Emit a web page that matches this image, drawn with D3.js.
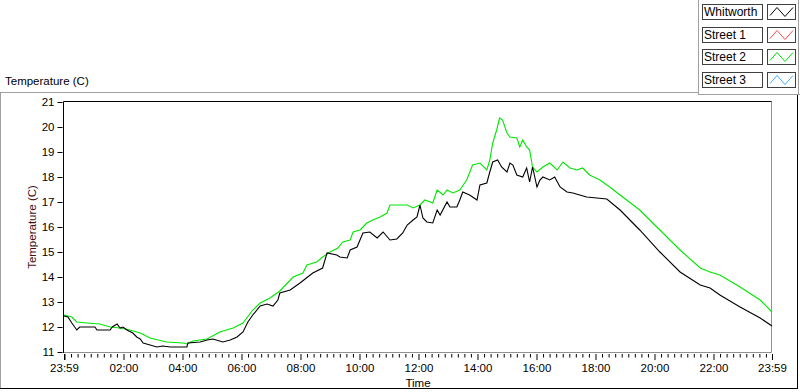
<!DOCTYPE html>
<html><head><meta charset="utf-8">
<script src="https://cdn.jsdelivr.net/npm/d3@7"></script>
<style>
html,body{margin:0;padding:0;background:#fff;}
svg{display:block;font-family:"Liberation Sans",Arial,sans-serif;}
</style></head><body>
<svg id="c" width="800" height="392"></svg>
<script>
const seriesNames = ["Whitworth", "Street 1", "Street 2", "Street 3"];
const seriesColors = ["#000000", "#ff4848", "#00e600", "#3cb0ff"];

const whitworthTimes = ["23:59","00:07","00:15","00:25","00:31","01:02","01:06","01:33","01:37","01:47","01:53","01:59","02:07","02:19","02:27","02:34","02:40","02:54","03:08","03:20","03:35","04:09","04:11","04:36","04:50","05:02","05:22","05:37","05:51","06:03","06:13","06:23","06:38","06:52","07:04","07:14","07:18","07:39","07:59","08:25","08:45","08:54","09:14","09:20","09:35","09:41","09:55","10:07","10:21","10:36","10:48","11:02","11:16","11:28","11:37","11:49","11:57","12:03","12:09","12:17","12:29","12:38","12:44","12:58","13:04","13:18","13:24","13:30","13:44","13:59","14:05","14:19","14:25","14:31","14:41","14:49","15:00","15:06","15:12","15:20","15:32","15:40","15:46","15:52","16:01","16:07","16:13","16:27","16:37","16:48","17:02","17:14","17:28","17:42","18:03","18:23","18:50","19:30","20:11","20:52","21:33","21:53","22:13","22:54","23:35","23:59"];
const whitworthTemps = [12.44,12.40,12.16,11.88,12.00,12.00,11.88,11.88,12.00,12.12,11.96,12.00,11.88,11.76,11.60,11.52,11.36,11.28,11.20,11.24,11.20,11.20,11.36,11.40,11.48,11.52,11.40,11.48,11.60,11.80,12.20,12.48,12.84,12.92,12.84,13.08,13.36,13.48,13.76,14.16,14.36,14.96,14.88,14.80,14.76,15.08,15.20,15.76,15.80,15.56,15.80,15.48,15.52,15.76,16.08,16.28,16.40,16.88,16.36,16.20,16.16,16.68,16.48,17.00,16.80,16.80,17.08,17.40,17.28,17.08,17.68,17.76,18.20,18.60,18.68,18.40,18.20,18.56,18.48,18.08,18.00,18.36,17.80,18.40,17.60,17.88,18.00,17.88,18.00,17.60,17.40,17.36,17.28,17.20,17.16,17.12,16.68,15.88,15.00,14.20,13.68,13.56,13.28,12.80,12.36,12.04];

const street2Times = ["23:59","00:15","00:25","00:46","01:12","01:33","01:53","02:13","02:34","02:54","03:28","04:01","04:09","04:21","04:50","05:16","05:43","06:03","06:23","06:38","06:58","07:18","07:45","08:05","08:13","08:33","08:45","09:00","09:16","09:26","09:41","09:47","10:01","10:15","10:27","10:42","10:56","11:02","11:37","11:49","12:03","12:13","12:29","12:38","12:50","12:58","13:10","13:24","13:38","13:50","14:05","14:19","14:25","14:31","14:39","14:45","14:51","15:00","15:06","15:20","15:26","15:32","15:40","15:46","15:52","16:01","16:13","16:27","16:42","16:54","17:08","17:22","17:34","17:48","18:09","18:29","18:50","19:30","20:11","20:52","21:33","21:53","22:13","22:54","23:35","23:59"];
const street2Temps = [12.48,12.40,12.20,12.16,12.12,12.00,11.96,11.88,11.76,11.56,11.40,11.36,11.32,11.44,11.52,11.80,11.96,12.16,12.68,12.96,13.16,13.44,14.00,14.16,14.48,14.60,14.80,15.00,15.16,15.40,15.48,15.80,15.88,16.16,16.28,16.40,16.56,16.88,16.88,16.76,16.88,17.08,16.96,17.48,17.28,17.48,17.36,17.48,17.88,18.48,18.56,18.28,18.68,19.36,19.88,20.36,20.28,19.76,19.60,19.56,19.20,19.48,19.20,19.08,18.40,18.20,18.40,18.56,18.28,18.60,18.36,18.28,18.36,18.08,17.88,17.60,17.28,16.68,15.88,15.08,14.36,14.20,14.08,13.60,13.08,12.60];

const yTicks = [11,12,13,14,15,16,17,18,19,20,21];
const xTickLabels = ["23:59","","02:00","04:00","06:00","08:00","10:00","12:00","14:00","16:00","18:00","20:00","22:00","23:59"];
const xMajorTimes = ["23:59","00:00","02:00","04:00","06:00","08:00","10:00","12:00","14:00","16:00","18:00","20:00","22:00","23:59"];

function toMin(s, i, arr) {
  const [h, m] = s.split(":").map(Number);
  let v = h * 60 + m;
  if (i === 0 && h === 23) v -= 1440;
  return v;
}

const svg = d3.select("#c");
const L = 63.5, R = 771.5, T = 101.5, B = 352;
const x = d3.scaleLinear().domain([-1, 1439]).range([64, 772]);
const y = d3.scaleLinear().domain([11, 21]).range([352, 102]);

// outer panel lines
const grey = "#a0a0a0";
svg.append("line").attr("x1",0).attr("x2",698).attr("y1",92.5).attr("y2",92.5).attr("stroke",grey);
svg.append("line").attr("x1",0.5).attr("x2",0.5).attr("y1",92).attr("y2",389).attr("stroke",grey);
svg.append("line").attr("x1",698.5).attr("x2",698.5).attr("y1",0).attr("y2",95).attr("stroke",grey);
svg.append("line").attr("x1",698).attr("x2",800).attr("y1",94.5).attr("y2",94.5).attr("stroke",grey);
svg.append("line").attr("x1",798.5).attr("x2",798.5).attr("y1",0).attr("y2",94).attr("stroke",grey);
svg.append("line").attr("x1",797.5).attr("x2",797.5).attr("y1",95).attr("y2",389).attr("stroke","#000");
svg.append("line").attr("x1",0).attr("x2",798).attr("y1",388.5).attr("y2",388.5).attr("stroke","#000");

// title
svg.append("text").attr("x",5).attr("y",85).attr("font-size",11.5).attr("fill","#000").text("Temperature (C)");

// plot frame
svg.append("line").attr("x1",R).attr("x2",R).attr("y1",T).attr("y2",B+0.5).attr("stroke","#909090");
svg.append("line").attr("x1",L).attr("x2",R).attr("y1",B+0.5).attr("y2",B+0.5).attr("stroke","#909090");
svg.append("line").attr("x1",L).attr("x2",R).attr("y1",T).attr("y2",T).attr("stroke","#000");
svg.append("line").attr("x1",L).attr("x2",L).attr("y1",T).attr("y2",B+1).attr("stroke","#000");

// y axis
const yAxis = d3.axisLeft(y).tickValues(yTicks).tickSize(5).tickPadding(3).tickFormat(d3.format("d"));
const gy = svg.append("g").attr("transform","translate(62.5,0)").call(yAxis);
gy.select(".domain").remove();
gy.selectAll("text").attr("font-size",11.5).attr("fill","#000").attr("font-family","Liberation Sans, Arial, sans-serif");
gy.selectAll("line").attr("stroke","#000");

// x axis majors
const majorVals = xMajorTimes.map(toMin);
const xAxis = d3.axisBottom(x).tickValues(majorVals).tickSize(6).tickPadding(4)
  .tickFormat((d, i) => xTickLabels[i]);
const gx = svg.append("g").attr("transform","translate(0,354)").call(xAxis);
gx.select(".domain").remove();
gx.selectAll("text").attr("font-size",11.5).attr("fill","#000").attr("font-family","Liberation Sans, Arial, sans-serif");
gx.selectAll("line").attr("stroke","#000").attr("stroke-width",1);
// minor ticks
const minorVals = d3.range(0, 108).filter(i => i % 9 !== 0).map(i => i * 40 / 3);
const gxm = svg.append("g").attr("transform","translate(0,354)")
  .call(d3.axisBottom(x).tickValues(minorVals).tickSize(3.5).tickFormat(""));
gxm.select(".domain").remove();
gxm.selectAll("line").attr("stroke","#000");

// axis titles
svg.append("text").attr("transform","translate(36,227) rotate(-90)").attr("text-anchor","middle")
  .attr("font-size",11.5).attr("fill","#4a0f0f").text("Temperature (C)");
svg.append("text").attr("x",418).attr("y",386.5).attr("text-anchor","middle")
  .attr("font-size",11.5).attr("fill","#000").text("Time");

// lines
const lineGen = d3.line().x(d => x(d.t)).y(d => y(d.v));
const w = whitworthTimes.map((s, i, a) => ({t: toMin(s, i, a), v: whitworthTemps[i]}));
const s2 = street2Times.map((s, i, a) => ({t: toMin(s, i, a), v: street2Temps[i]}));
const plot = svg.append("g");
plot.append("path").datum(s2).attr("d", lineGen).attr("fill","none").attr("stroke",seriesColors[2]).attr("stroke-width",1.1);
plot.append("path").datum(w).attr("d", lineGen).attr("fill","none").attr("stroke",seriesColors[0]).attr("stroke-width",1.1);

// legend
const lg = svg.append("g");
seriesNames.forEach((n, i) => {
  const yy = 4.5 + Math.round(i * 22.67);
  lg.append("rect").attr("x",702.5).attr("y",yy).attr("width",60).attr("height",15)
    .attr("fill","#fff").attr("stroke","#404040");
  lg.append("text").attr("x",704).attr("y",yy + 11.5).attr("font-size",12).attr("fill","#000").text(n);
  lg.append("rect").attr("x",767.5).attr("y",yy).attr("width",28).attr("height",15)
    .attr("fill","#fff").attr("stroke","#404040");
  lg.append("path").attr("d",`M770,${yy+11} L777,${yy+3} L785,${yy+12} L793,${yy+3}`)
    .attr("fill","none").attr("stroke",seriesColors[i]).attr("stroke-width",1);
});
</script>
</body></html>
